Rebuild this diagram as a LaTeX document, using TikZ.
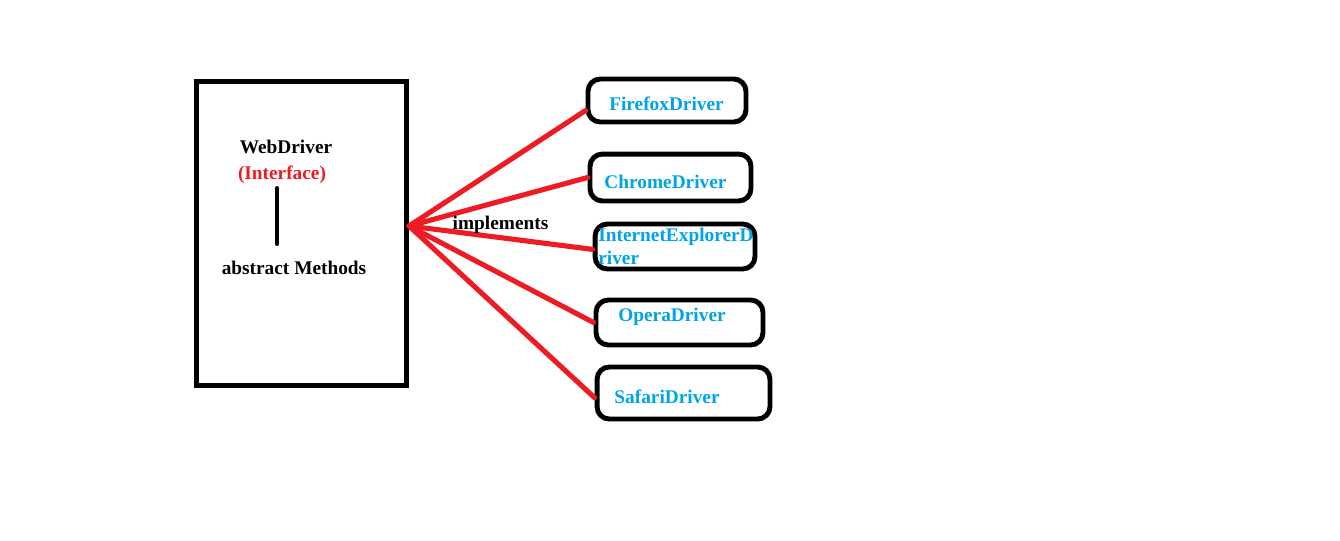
\documentclass[tikz,border=0pt]{standalone}
\usepackage{fontspec}
\setmainfont{Liberation Serif}
\usetikzlibrary{shapes}
\definecolor{paintred}{RGB}{237,28,36}
\definecolor{paintblue}{RGB}{0,162,232}

\begin{document}
\begin{tikzpicture}[scale=0.2]
	\tikzstyle{every node}+=[inner sep=0pt, font=\fontsize{11}{13.1}\selectfont\bfseries]
	\tikzstyle{driver}=[draw=black, line width=2.8pt, rounded corners=7pt]
	\tikzstyle{drvtext}=[text=paintblue, anchor=base]
	\tikzstyle{impl}=[paintred, line width=2.9pt, line cap=round]
	\useasboundingbox (0,0) rectangle (134,-54);
	\node [draw=black, line width=2.9pt, minimum width=119.5pt, minimum height=173pt] (iface) at (30.15,-23.35) {};
	\node [anchor=base] (wd) at (28.6,-15.3) {WebDriver};
	\node [anchor=base, text=paintred] (intf) at (28.2,-17.9) {(Interface)};
	\coordinate (bartop) at (27.7,-18.8);
	\coordinate (barbot) at (27.7,-24.4);
	\draw [black, line width=2.3pt, line cap=round] (bartop) -- (barbot);
	\node [anchor=base] (abs) at (29.4,-27.4) {abstract Methods};
	\node [driver, minimum width=89.9pt, minimum height=24.5pt] (ff) at (66.7,-10.05) {};
	\node [drvtext] (ffl) at (66.65,-11.0) {FirefoxDriver};
	\node [driver, minimum width=91.6pt, minimum height=26.7pt] (ch) at (67.05,-17.75) {};
	\node [drvtext] (chl) at (66.55,-18.8) {ChromeDriver};
	\node [driver, minimum width=91pt, minimum height=25.6pt] (ie) at (67.5,-24.65) {};
	\node [text=paintblue, anchor=west, align=left] (iel) at (59.8,-24.6) {InternetExplorerD\\river};
	\node [driver, minimum width=95pt, minimum height=25.6pt] (op) at (67.95,-32.25) {};
	\node [drvtext] (opl) at (67.2,-32.15) {OperaDriver};
	\node [driver, minimum width=98.4pt, minimum height=29.6pt] (sf) at (68.35,-39.3) {};
	\node [drvtext] (sfl) at (66.7,-40.3) {SafariDriver};
	\draw [impl] (iface.4.6) -- (ff.187);
	\draw [impl] (iface.4.6) -- (ch.west);
	\draw [impl] (iface.4.6) -- (ie.182.5);
	\draw [impl] (iface.4.6) -- (op.west);
	\draw [impl] (iface.4.6) -- (sf.183.3);
	\node [anchor=base] (impl) at (50.05,-22.9) {implements};
\end{tikzpicture}
\end{document}
